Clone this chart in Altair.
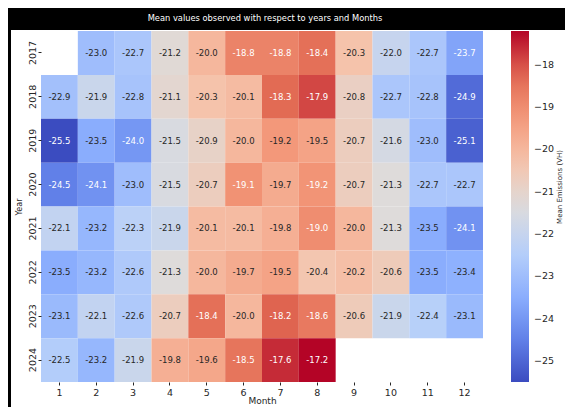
import altair as alt
import pandas as pd
import numpy as np

years = [2017, 2018, 2019, 2020, 2021, 2022, 2023, 2024]
months = list(range(1, 13))

v2017 = [None, -23.0, -22.7, -21.2, -20.0, -18.8, -18.8, -18.4, -20.3, -22.0, -22.7, -23.7]
v2018 = [-22.9, -21.9, -22.8, -21.1, -20.3, -20.1, -18.3, -17.9, -20.8, -22.7, -22.8, -24.9]
v2019 = [-25.5, -23.5, -24.0, -21.5, -20.9, -20.0, -19.24, -19.5, -20.7, -21.6, -23.0, -25.1]
v2020 = [-24.5, -24.1, -23.0, -21.5, -20.7, -19.1, -19.7, -19.16, -20.7, -21.3, -22.7, -22.7]
v2021 = [-22.1, -23.2, -22.3, -21.9, -20.1, -20.1, -19.8, -19.0, -20.0, -21.3, -23.5, -24.1]
v2022 = [-23.5, -23.2, -22.6, -21.3, -20.0, -19.7, -19.5, -20.4, -20.2, -20.6, -23.5, -23.4]
v2023 = [-23.1, -22.1, -22.6, -20.7, -18.4, -20.0, -18.2, -18.6, -20.6, -21.9, -22.4, -23.1]
v2024 = [-22.5, -23.2, -21.9, -19.8, -19.6, -18.5, -17.6, -17.2, None, None, None, None]

legend_ticks = [-25, -24, -23, -22, -21, -20, -19, -18]
legend_title = "Mean Emissions (VH)"
chart_title = "Mean values observed with respect to years and Months"
coolwarm = ["#3b4cc0", "#6282ea", "#8db0fe", "#b8d0f9", "#dddcdc",
            "#f5c4ac", "#f49a7b", "#e16852", "#b40426"]

rows = []
for yr, vals in zip(years, [v2017, v2018, v2019, v2020, v2021, v2022, v2023, v2024]):
    for m, v in zip(months, vals):
        if v is not None:
            rows.append({"Year": yr, "Month": m, "v": v, "label": f"{v:.1f}"})
df = pd.DataFrame(rows)

vmin, vmax = float(df.v.min()), float(df.v.max())
stops = [float(s) for s in np.linspace(vmin, vmax, len(coolwarm))]

FONT = "DejaVu Sans"
DARK = "#262626"

base = alt.Chart(df).encode(
    x=alt.X("Month:O", sort=months,
            scale=alt.Scale(paddingInner=0, paddingOuter=0),
            axis=alt.Axis(title="Month", labelAngle=0, labelFontSize=9.5,
                          titleFontSize=9, titleY=18.5, titleBaseline="middle",
                          labelPadding=2, tickSize=3)),
    y=alt.Y("Year:O", sort=years,
            scale=alt.Scale(paddingInner=0, paddingOuter=0),
            axis=alt.Axis(title="Year", labelAngle=270, labelAlign="center",
                          labelBaseline="bottom", labelFontSize=9.5,
                          titleFontSize=8, titlePadding=4, labelPadding=1,
                          tickSize=3)),
)

heat = base.mark_rect().encode(
    color=alt.Color("v:Q",
                    scale=alt.Scale(domain=stops, range=coolwarm, interpolate="rgb"),
                    legend=alt.Legend(title=None, orient="none",
                                      legendX=470, legendY=0, direction="vertical",
                                      gradientLength=351, gradientThickness=18,
                                      values=legend_ticks, format="d",
                                      labelFontSize=9.5, labelFont=FONT, labelColor=DARK,
                                      labelOverlap=False, labelOffset=5))
)

text = base.mark_text(font=FONT, fontSize=8.5).encode(
    text="label:N",
    color=alt.condition("datum.v > -19.2 || datum.v < -23.6",
                        alt.value("white"), alt.value(DARK)),
)

deco = pd.DataFrame({"k": [0]})
bar = alt.Chart(deco).mark_rect(color="black").encode(
    x=alt.value(-33), x2=alt.value(524), y=alt.value(-23), y2=alt.value(-1))
border = alt.Chart(deco).mark_rect(color="black").encode(
    x=alt.value(-33), x2=alt.value(-30), y=alt.value(-23), y2=alt.value(376))

title_text = alt.Chart(pd.DataFrame({"t": [chart_title]})).mark_text(
    font=FONT, fontSize=8.3, color="white", align="center", baseline="middle"
).encode(text="t:N", x=alt.value(224), y=alt.value(-12))

cbar_title = alt.Chart(pd.DataFrame({"t": [legend_title]})).mark_text(
    font=FONT, fontSize=7, color=DARK, angle=270, align="center", baseline="middle"
).encode(text="t:N", x=alt.value(519), y=alt.value(156))

chart = alt.layer(bar, border, heat, text, title_text, cbar_title).properties(
    width=442, height=351,
    padding={"left": 33, "top": 23, "right": 82, "bottom": 25},
    autosize=alt.AutoSizeParams(type="none"),
    background="white",
).configure_view(stroke=None).configure_axis(
    domain=False, grid=False, labelFont=FONT, titleFont=FONT,
    labelColor=DARK, titleColor=DARK, tickColor=DARK, titleFontWeight="normal",
)

chart.save("out.html", embed_options={"renderer": "svg", "actions": False})
